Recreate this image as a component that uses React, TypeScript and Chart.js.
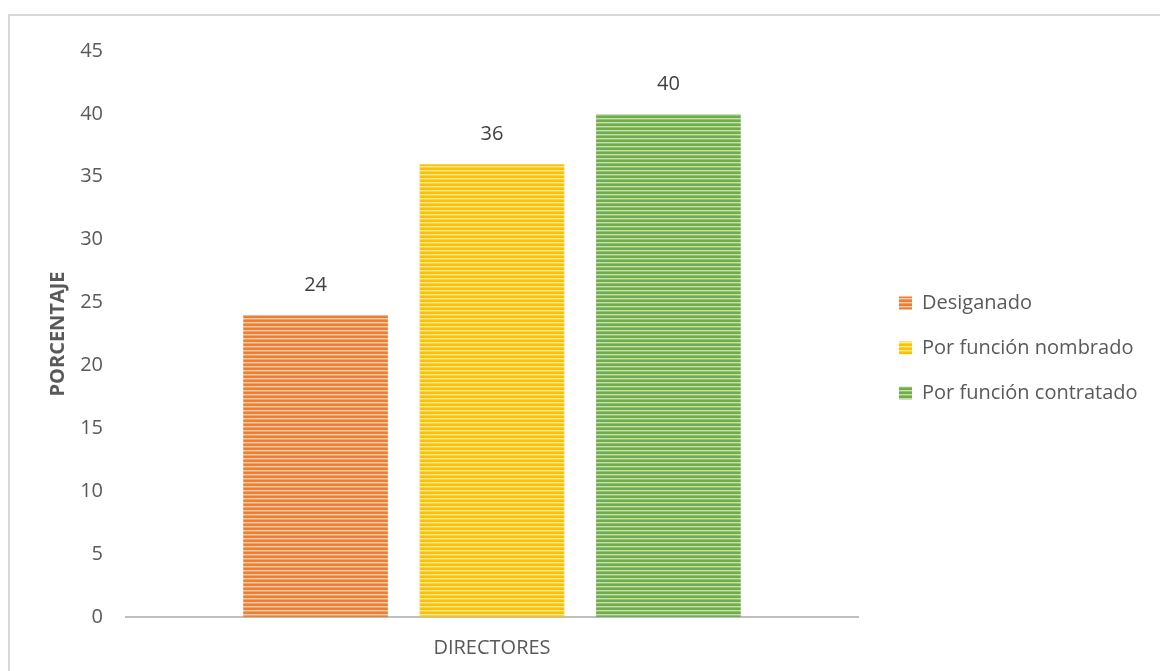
import React, { useEffect, useRef } from 'react';
import { Chart, registerables } from 'chart.js';

Chart.register(...registerables);

const categories = ['DIRECTORES'];
const seriesNames = ['Desiganado', 'Por función nombrado', 'Por función contratado'];
const desiganado = [24];
const nombrado = [36];
const contratado = [40];
const seriesColors = ['#ED7D31', '#FFC000', '#70AD47'];
const yMax = 45;
const yStep = 5;
const yTitle = 'PORCENTAJE';

const FONT = '"Open Sans"';
const CANVAS_W = 1150;
const CANVAS_H = 655;

function mix(hex: string, t: number): string {
  const n = parseInt(hex.slice(1), 16);
  const r = (n >> 16) & 255, g = (n >> 8) & 255, b = n & 255;
  const m = (c: number) => Math.round(c + (255 - c) * t);
  return `rgb(${m(r)},${m(g)},${m(b)})`;
}

function stripes(hex: string): CanvasPattern | string {
  const c = document.createElement('canvas');
  c.width = 8;
  c.height = 4;
  const x = c.getContext('2d');
  if (!x) return hex;
  const rows = [hex, hex, mix(hex, 0.6), mix(hex, 0.25)];
  rows.forEach((col, i) => {
    x.fillStyle = col;
    x.fillRect(0, i, 8, 1);
  });
  return x.createPattern(c, 'repeat') || hex;
}

const valueLabels = {
  id: 'valueLabels',
  afterDatasetsDraw(chart: any) {
    const ctx = chart.ctx;
    ctx.save();
    ctx.font = `20px ${FONT}`;
    ctx.fillStyle = '#404040';
    ctx.textAlign = 'center';
    ctx.textBaseline = 'middle';
    chart.data.datasets.forEach((ds: any, i: number) => {
      const meta = chart.getDatasetMeta(i);
      meta.data.forEach((el: any, j: number) => {
        ctx.fillText(String(ds.data[j]), el.x, el.y - 30);
      });
    });
    ctx.restore();
  },
};

const LEGEND_W = 302;
const LEGEND_SHIFT_X = 16;
const LEGEND_SHIFT_Y = -10;
const legendPlace = {
  id: 'legendPlace',
  beforeLayout(chart: any) {
    const lg = chart.legend;
    if (lg && !lg.__patched) {
      const orig = lg.fit;
      lg.fit = function () {
        orig.call(this);
        this.width = LEGEND_W;
      };
      lg.__patched = true;
    }
  },
  afterLayout(chart: any) {
    const lg = chart.legend;
    if (lg) {
      lg.left += LEGEND_SHIFT_X;
      lg.right += LEGEND_SHIFT_X;
      lg.top += LEGEND_SHIFT_Y;
      lg.bottom += LEGEND_SHIFT_Y;
    }
  },
};

export default function App() {
  const ref = useRef<HTMLCanvasElement | null>(null);

  useEffect(() => {
    if (!ref.current) return;
    document.documentElement.style.overflow = 'hidden';
    document.body.style.overflow = 'hidden';
    const values = [desiganado, nombrado, contratado];
    const chart = new Chart(ref.current, {
      type: 'bar',
      data: {
        labels: categories,
        datasets: seriesNames.map((name, i) => ({
          label: name,
          data: values[i],
          backgroundColor: stripes(seriesColors[i]) as any,
          borderWidth: 0,
          categoryPercentage: 0.723,
          barPercentage: 0.82,
        })),
      },
      options: {
        responsive: false,
        animation: false,
        devicePixelRatio: 1,
        layout: { padding: { top: 29, left: 0, right: 0, bottom: 0 } },
        plugins: {
          tooltip: { enabled: false },
          title: { display: false },
          legend: {
            display: true,
            position: 'right',
            align: 'center',
            labels: {
              boxWidth: 13,
              boxHeight: 13,
              padding: 25,
              color: '#595959',
              font: { family: FONT, size: 20 },
            },
          },
        },
        scales: {
          x: {
            grid: { display: false, drawTicks: false },
            border: { display: true, color: '#BFBFBF', width: 2 },
            ticks: {
              color: '#595959',
              font: { family: FONT, size: 20 },
              padding: 19,
            },
            afterFit(scale: any) {
              scale.height = 54;
            },
          },
          y: {
            min: 0,
            max: yMax,
            grid: { display: false, drawTicks: false },
            border: { display: false },
            ticks: {
              stepSize: yStep,
              color: '#595959',
              font: { family: FONT, size: 20 },
              padding: 23,
            },
            title: {
              display: true,
              text: yTitle,
              color: '#595959',
              font: { family: FONT, size: 20, weight: 'bold' },
              padding: { top: 36, bottom: 0 },
            },
            afterFit(scale: any) {
              scale.width = 116;
            },
          },
        },
      },
      plugins: [valueLabels, legendPlace],
    });
    return () => chart.destroy();
  }, []);

  return (
    <div
      style={{
        position: 'fixed',
        left: 8,
        top: 14,
        width: 1200,
        height: 720,
        border: '2px solid #D9D9D9',
        background: '#fff',
      }}
    >
      <canvas ref={ref} width={CANVAS_W} height={CANVAS_H} style={{ display: 'block' }} />
    </div>
  );
}
